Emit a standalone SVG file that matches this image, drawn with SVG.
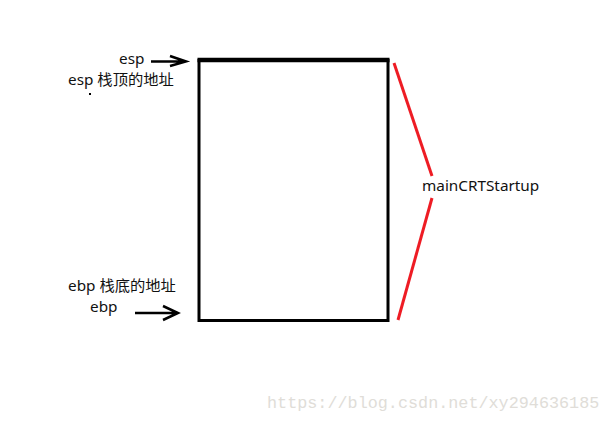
<svg xmlns="http://www.w3.org/2000/svg" width="608" height="422" viewBox="0 0 608 422">
<style>
.t{font-family:"Noto Sans","Noto Sans CJK SC",sans-serif;font-size:15.3px;fill:#111}
.ar{stroke:#000;stroke-width:2.5;fill:none}
.red{stroke:#ee1c24;stroke-width:3;fill:none}
</style>
<rect width="608" height="422" fill="#fff"/>
<g id="stack">
<rect x="199" y="60.5" width="189" height="260" fill="none" stroke="#000" stroke-width="3"/>
<line x1="197.5" y1="60" x2="389.5" y2="60" stroke="#000" stroke-width="4.5"/>
</g>
<g id="esp-label">
<text class="t" x="119" y="64">esp</text>
<text class="t" x="68" y="85">esp 栈顶的地址</text>
<rect x="89" y="93" width="2" height="2" fill="#000"/>
</g>
<g id="ebp-label">
<text class="t" x="68" y="291">ebp 栈底的地址</text>
<text class="t" x="90" y="312">ebp</text>
</g>
<g id="main-label">
<text class="t" x="422" y="191">mainCRTStartup</text>
</g>
<g id="connectors">
<path class="ar" d="M151 61.5 H185 M170 56 L186 61.5 L170 66"/>
<path class="ar" d="M135 313 H177 M163 306 L178 313 L163 320"/>
<line class="red" x1="394" y1="63" x2="432" y2="176"/>
<line class="red" x1="432" y1="198" x2="398" y2="320"/>
</g>
<text x="267" y="408" font-family="Liberation Mono,monospace" font-size="16.8" fill="#e0ddd8">https://blog.csdn.net/xy294636185</text>
</svg>
